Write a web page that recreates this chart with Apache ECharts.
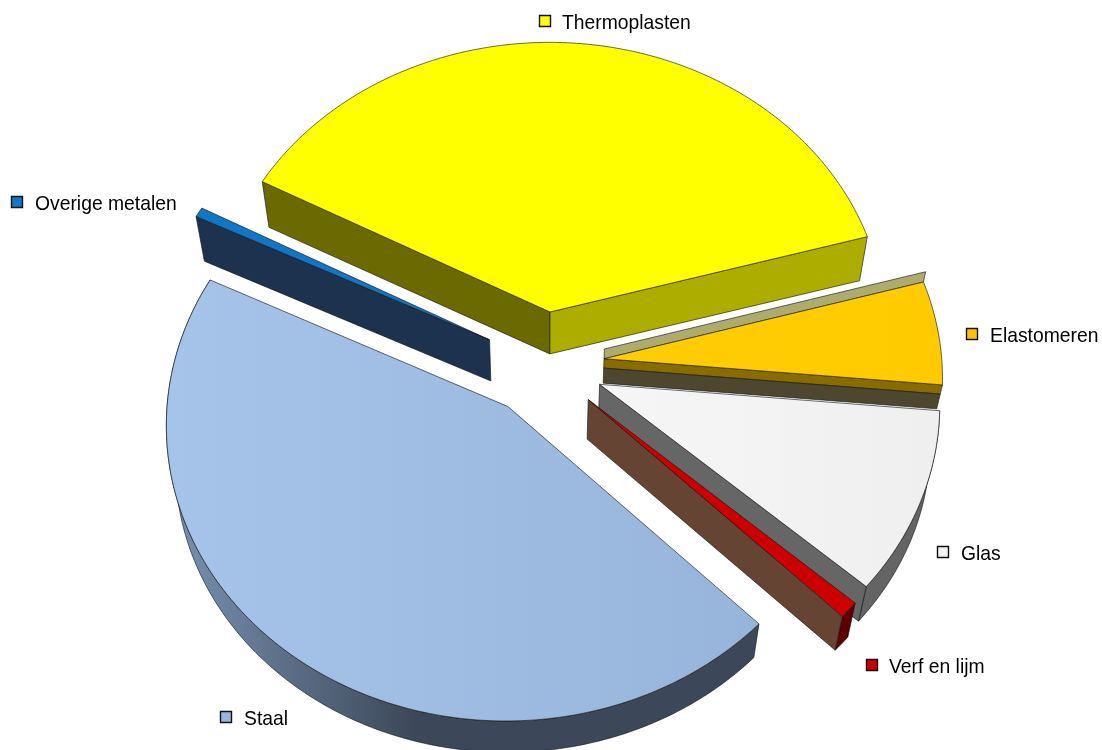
<!DOCTYPE html>
<html>
<head>
<meta charset="utf-8">
<style>html,body{margin:0;padding:0;background:#fff}#chart{width:1102px;height:750px}</style>
<script src="https://cdn.jsdelivr.net/npm/echarts@6/dist/echarts.min.js"></script>
</head>
<body>
<div id="chart"></div>
<script>
// ---- data (share of total, %) ----
const categories = ['Thermoplasten', 'Elastomeren', 'Glas', 'Verf en lijm', 'Staal', 'Overige metalen'];
const shares = [37.9, 5.75, 10.1, 0.9, 44.8, 0.55];

// ---- presentation ----
const startAngle = 152;
const view = { cx: 543.5, cy: 363.5, a: 338, b: 291, k: 0.058, explode: 0.18, depthBase: 40.5, depthSlope: 8, taper: 0.024 };
const outline = 'rgba(20,20,20,0.9)';
const looks = {
  'Thermoplasten': { face: ['#ffff00', '#ffff00'], swatch: '#ffff00',
    walls: [{ edge: 'start', z: [0, 1], fill: '#6a6a00' }, { edge: 'end', z: [0, 1], fill: '#adad00' }] },
  'Elastomeren': { face: ['#ffcd05', '#ffcb00'], swatch: '#ffc000',
    walls: [{ edge: 'start', z: [-0.24, 0], fill: '#aeac6c' }, { edge: 'end', z: [0, 0.23], fill: '#886c00' }, { edge: 'end', z: [0.23, 0.6], fill: '#4c472e' }] },
  'Glas': { face: ['#f6f6f6', '#efefef'], swatch: '#f2f2f2',
    walls: [{ edge: 'arc', z: [0, 1], fill: '#646464' }, { edge: 'end', z: [0, 1], fill: '#666666' }] },
  'Verf en lijm': { face: ['#cc0000', '#cc0000'], swatch: '#cc0000',
    walls: [{ edge: 'arc', z: [0, 1], fill: '#5c0000' }, { edge: 'end', z: [0, 1], fill: '#654433' }] },
  'Staal': { face: ['#a6c3e9', '#97b4da'], swatch: '#9ab6dc',
    walls: [{ edge: 'arc', z: [0, 1], fill: { type: 'linear', x: 0, y: 0, x2: 1, y2: 0, colorStops: [{ offset: 0, color: '#7a93b3' }, { offset: 0.42, color: '#3c4859' }, { offset: 1, color: '#3c4859' }] } }] },
  'Overige metalen': { face: ['#0f77c6', '#0f77c6'], swatch: '#0f77c6',
    walls: [{ edge: 'start', z: [0, 1], fill: '#1c324f' }] }
};
const labelSpots = {
  'Thermoplasten': [539, 21, 562],
  'Elastomeren': [966, 334, 990],
  'Glas': [937, 552, 961],
  'Verf en lijm': [866, 665, 889],
  'Staal': [220, 717, 244],
  'Overige metalen': [11, 202, 35]
};

function project(u, v, z) {
  const s = 1 / (1 + view.k * v);
  const x = view.cx + view.a * u * s;
  const y = view.cy - view.b * v * s;
  return [x - (x - view.cx) * view.taper * z, y + (view.depthBase + view.depthSlope * v) * z];
}

const total = shares.reduce((p, c) => p + c, 0);
const angleOf = [];
(function () {
  let acc = startAngle;
  shares.forEach(function (val) {
    const sweep = val / total * 360;
    angleOf.push([acc, acc - sweep]);
    acc -= sweep;
  });
})();

function renderSlice(params, api) {
  const name = categories[params.dataIndex];
  const look = looks[name];
  const angles = angleOf[params.dataIndex];
  const a0 = angles[0] * Math.PI / 180, a1 = angles[1] * Math.PI / 180;
  const mid = (a0 + a1) / 2;
  const ox = view.explode * Math.cos(mid), oy = view.explode * Math.sin(mid);
  const rim = function (ang, z) { return project(ox + Math.cos(ang), oy + Math.sin(ang), z); };
  const apex = function (z) { return project(ox, oy, z); };
  const arc = function (z, rev) {
    const pts = [];
    const n = Math.max(4, Math.ceil(Math.abs(a0 - a1) / 0.015));
    for (let i = 0; i <= n; i++) {
      const t = rev ? 1 - i / n : i / n;
      pts.push(rim(a0 + (a1 - a0) * t, z));
    }
    return pts;
  };
  const children = [];
  look.walls.forEach(function (w) {
    let pts;
    if (w.edge === 'arc') {
      pts = arc(w.z[0], false).concat(arc(w.z[1], true));
    } else {
      const ang = w.edge === 'start' ? a0 : a1;
      pts = [apex(w.z[0]), rim(ang, w.z[0]), rim(ang, w.z[1]), apex(w.z[1])];
    }
    children.push({ type: 'polygon', shape: { points: pts }, style: { fill: w.fill, stroke: outline, lineWidth: 0.7 }, silent: true });
  });
  children.push({
    type: 'polygon',
    shape: { points: [apex(0)].concat(arc(0, false)) },
    style: {
      fill: { type: 'linear', x: 0, y: 0, x2: 1, y2: 0, colorStops: [{ offset: 0, color: look.face[0] }, { offset: 1, color: look.face[1] }] },
      stroke: outline, lineWidth: 0.7
    },
    silent: true
  });
  const spot = labelSpots[name];
  children.push({
    type: 'rect', shape: { x: spot[0] + 0.5, y: spot[1] - 5.5, width: 11, height: 11 },
    style: { fill: look.swatch, stroke: '#111111', lineWidth: 1.4 }, silent: true, z2: 50
  });
  children.push({
    type: 'text', x: spot[2], y: spot[1] + 2, scaleX: 0.92, z2: 50, silent: true,
    style: { text: name, fill: '#000000', font: '21px "Liberation Sans", Arial, sans-serif', align: 'left', verticalAlign: 'middle' }
  });
  return { type: 'group', children: children };
}

const chart = echarts.init(document.getElementById('chart'), null, { renderer: 'canvas' });
chart.setOption({
  animation: false,
  backgroundColor: '#ffffff',
  tooltip: { show: false },
  series: [{
    type: 'custom',
    coordinateSystem: 'none',
    renderItem: renderSlice,
    data: categories.map(function (c, i) { return { name: c, value: shares[i] }; })
  }]
});
</script>
</body>
</html>
